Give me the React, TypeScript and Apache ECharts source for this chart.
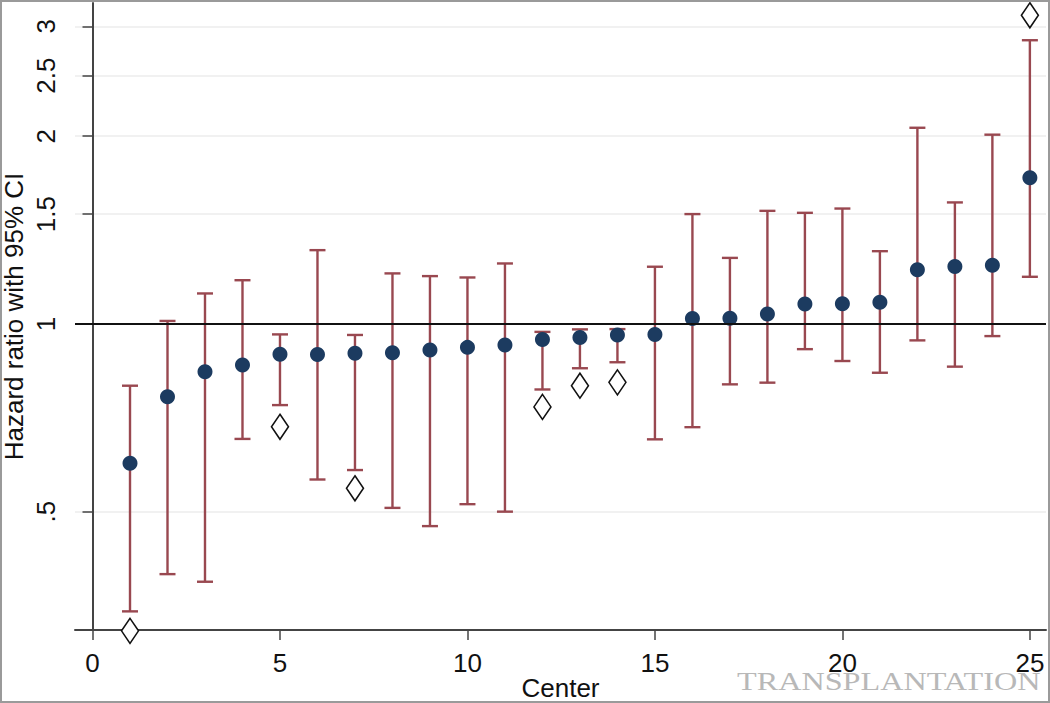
import React, { useEffect, useRef } from "react";
import * as echarts from "echarts";

const centers = [1, 2, 3, 4, 5, 6, 7, 8, 9, 10, 11, 12, 13, 14, 15, 16, 17, 18, 19, 20, 21, 22, 23, 24, 25];
const hazardRatio = [0.598, 0.764, 0.838, 0.859, 0.894, 0.893, 0.897, 0.899, 0.908, 0.917, 0.925, 0.944, 0.951, 0.96, 0.962, 1.02, 1.021, 1.037, 1.076, 1.077, 1.083, 1.221, 1.236, 1.242, 1.716];
const ciLow = [0.346, 0.397, 0.386, 0.654, 0.741, 0.563, 0.583, 0.507, 0.474, 0.514, 0.5, 0.785, 0.849, 0.868, 0.653, 0.683, 0.8, 0.805, 0.911, 0.872, 0.835, 0.941, 0.854, 0.956, 1.19];
const ciHigh = [0.796, 1.011, 1.119, 1.175, 0.962, 1.313, 0.96, 1.205, 1.193, 1.187, 1.25, 0.971, 0.98, 0.981, 1.235, 1.5, 1.276, 1.518, 1.507, 1.531, 1.308, 2.063, 1.566, 2.011, 2.85];
const diamondCenters = [1, 5, 7, 12, 13, 14, 25];
const diamondValues = [0.322, 0.684, 0.545, 0.736, 0.796, 0.806, 3.125];
const xTicks = [0, 5, 10, 15, 20, 25];
const yTicks = [0.5, 1, 1.5, 2, 2.5, 3];

const FONT = "'Liberation Sans', Arial, sans-serif";
const BAR_COLOR = "#994850";
const DOT_COLOR = "#1c3b60";

export default function App() {
  const ref = useRef<HTMLDivElement>(null);
  useEffect(() => {
    if (!ref.current) return;
    const chart = echarts.init(ref.current, null, { renderer: "svg" });
    const errData = centers.map((c, i) => [c, ciLow[i], ciHigh[i]]);
    const dotData = centers.map((c, i) => [c, hazardRatio[i]]);
    const diaData = diamondCenters.map((c, i) => [c, diamondValues[i]]);
    chart.setOption({
      animation: false,
      backgroundColor: "#ffffff",
      textStyle: { fontFamily: FONT },
      grid: { left: 75, right: 4, top: 3, bottom: 73, containLabel: false, outerBoundsMode: "none" },
      xAxis: {
        type: "value",
        min: -0.467,
        max: 25.43,
        name: "Center",
        nameLocation: "middle",
        nameGap: 45,
        nameMoveOverlap: false,
        nameTextStyle: { fontSize: 26, color: "#111", fontFamily: FONT },
        axisLine: { show: true, onZero: false, lineStyle: { color: "#444", width: 2 } },
        axisTick: { show: true, length: 10, customValues: xTicks, lineStyle: { color: "#444", width: 1.5 } },
        axisLabel: { customValues: xTicks, fontSize: 26, color: "#111", margin: 20, fontFamily: FONT },
        splitLine: { show: false },
      },
      yAxis: {
        type: "log",
        min: 0.323,
        max: 3.27,
        name: "Hazard ratio with 95% CI",
        nameLocation: "middle",
        nameGap: 48,
        nameMoveOverlap: false,
        nameTextStyle: { fontSize: 26, color: "#111", fontFamily: FONT },
        axisLine: { show: true, lineStyle: { color: "#444", width: 2 } },
        axisTick: { show: true, length: 10, customValues: yTicks, lineStyle: { color: "#444", width: 1.5 } },
        axisLabel: {
          customValues: yTicks,
          rotate: 90,
          fontSize: 26,
          color: "#111",
          margin: 16,
          fontFamily: FONT,
          formatter: (v: number) => {
            const s = String(Math.round(v * 10) / 10);
            return s.startsWith("0.") ? s.slice(1) : s;
          },
        },
        splitLine: { show: true, lineStyle: { color: "#ececec", width: 1.5 } },
        minorTick: { show: false },
      },
      series: [
        {
          type: "custom",
          z: 2,
          data: errData,
          encode: { x: 0, y: [1, 2] },
          renderItem: (params: any, api: any) => {
            const x = api.value(0);
            const pLo = api.coord([x, api.value(1)]);
            const pHi = api.coord([x, api.value(2)]);
            const hw = 8;
            const style = { stroke: BAR_COLOR, lineWidth: 2.4 };
            return {
              type: "group",
              children: [
                { type: "line", shape: { x1: pHi[0], y1: pHi[1], x2: pLo[0], y2: pLo[1] }, style },
                { type: "line", shape: { x1: pHi[0] - hw, y1: pHi[1], x2: pHi[0] + hw, y2: pHi[1] }, style },
                { type: "line", shape: { x1: pLo[0] - hw, y1: pLo[1], x2: pLo[0] + hw, y2: pLo[1] }, style },
              ],
            };
          },
        },
        {
          type: "scatter",
          z: 3,
          data: [],
          markLine: {
            silent: true,
            symbol: "none",
            label: { show: false },
            lineStyle: { color: "#111", width: 2, type: "solid" },
            data: [{ yAxis: 1 }],
          },
        },
        {
          type: "scatter",
          z: 4,
          data: dotData,
          symbol: "circle",
          symbolSize: 15,
          itemStyle: { color: DOT_COLOR, opacity: 1 },
        },
        {
          type: "scatter",
          z: 4,
          clip: false,
          data: diaData,
          symbol: "diamond",
          symbolSize: [17, 25],
          itemStyle: { color: "#ffffff", borderColor: "#111", borderWidth: 1.6, opacity: 1 },
        },
      ],
      graphic: [
        {
          type: "text",
          z: -10,
          x: 737,
          y: 694,
          scaleX: 1.24,
          style: {
            text: "TRANSPLANTATION",
            font: "26px 'Liberation Serif', 'DejaVu Serif', serif",
            fill: "#b8b8b8",
            textAlign: "left",
            textVerticalAlign: "bottom",
          },
        },
        {
          type: "rect",
          z: 100,
          shape: { x: 1, y: 1, width: 1048, height: 701 },
          style: { fill: "none", stroke: "#9a9a9a", lineWidth: 2 },
        },
      ],
    });
    return () => chart.dispose();
  }, []);
  return (
    <div
      ref={ref}
      style={{ position: "absolute", left: 0, top: 0, width: 1050, height: 703, background: "#fff" }}
    />
  );
}
